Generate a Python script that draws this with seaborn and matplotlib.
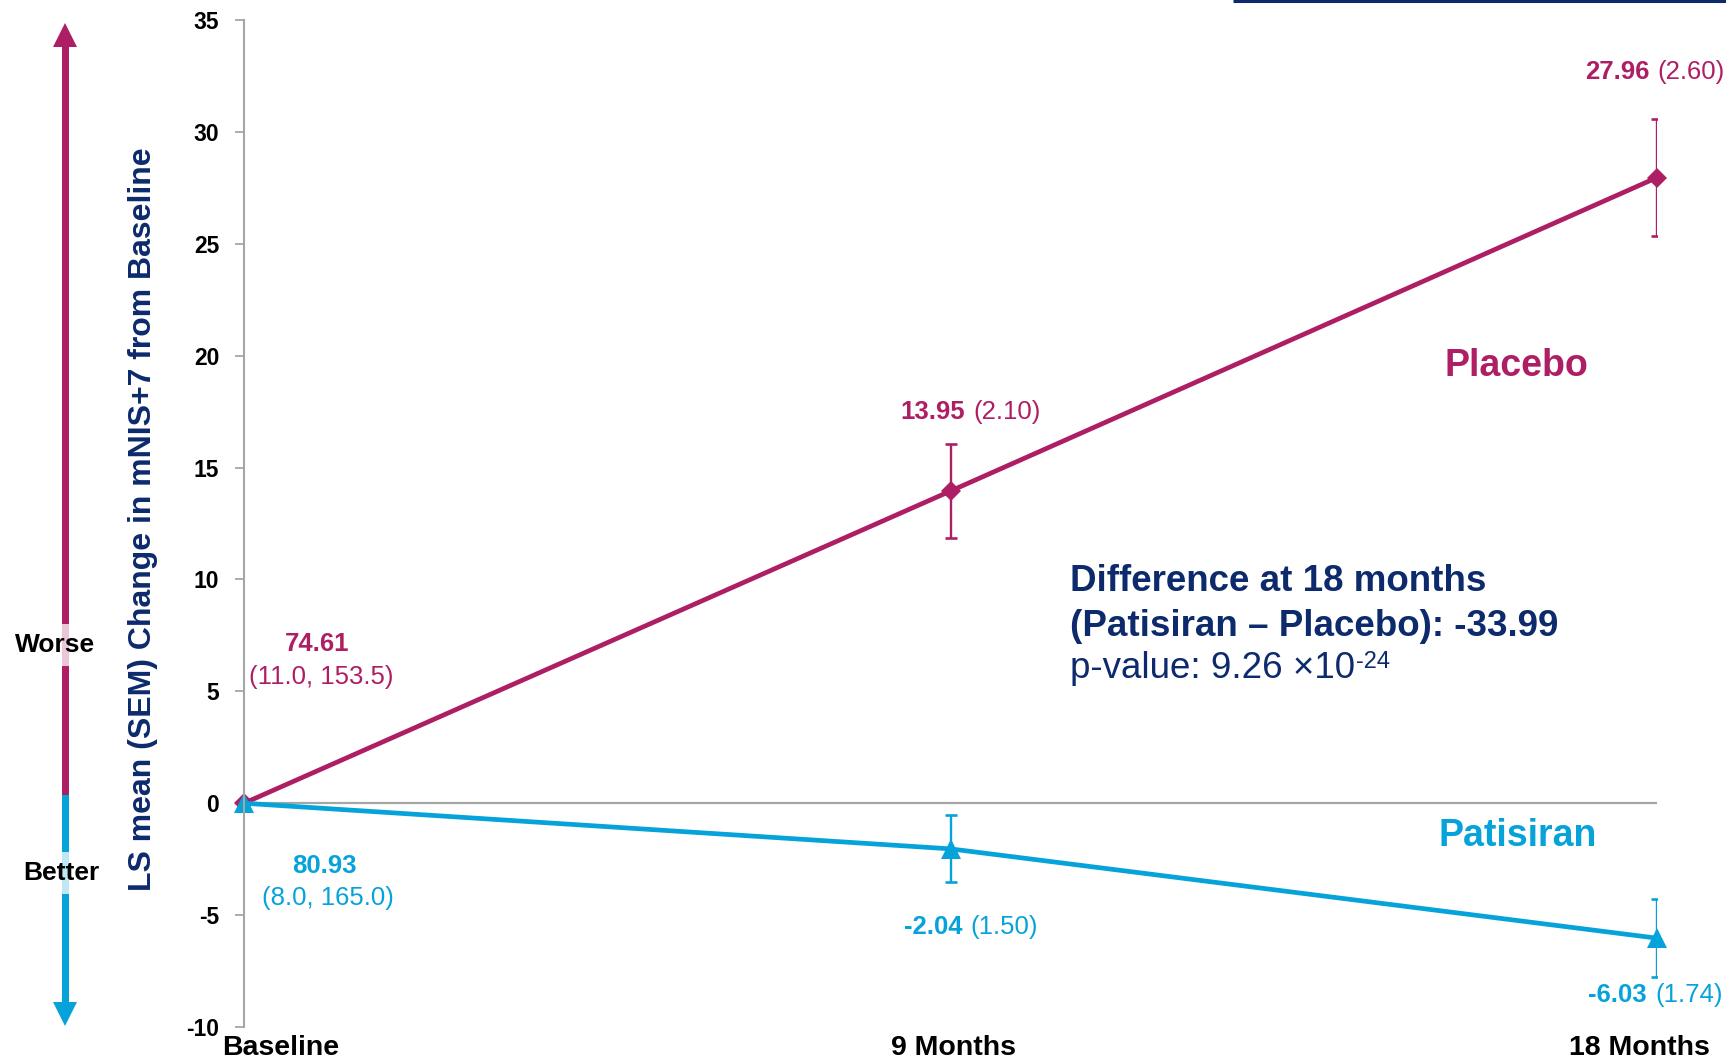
import matplotlib
matplotlib.use("Agg")
import matplotlib.pyplot as plt
from matplotlib.patches import Rectangle, Polygon
from matplotlib.transforms import ScaledTranslation
import numpy as np
import pandas as pd
import seaborn as sns

# ---- data -------------------------------------------------------------
timepoints = ["Baseline", "9 Months", "18 Months"]
arms = ["Placebo", "Patisiran"]

placebo_change = [0.0, 13.95, 27.96]
placebo_sem = [np.nan, 2.10, 2.60]
patisiran_change = [0.0, -2.04, -6.03]
patisiran_sem = [np.nan, 1.50, 1.74]

# baseline mNIS+7 mean and (min, max)
placebo_baseline = ["74.61", "(11.0, 153.5)"]
patisiran_baseline = ["80.93", "(8.0, 165.0)"]

y_ticks = [-10, -5, 0, 5, 10, 15, 20, 25, 30, 35]

difference_lines = ["Difference at 18 months",
                    "(Patisiran \u2013 Placebo): -33.99",
                    "p-value: 9.26 \u00d710"]
p_exponent = "-24"

# ---- style ------------------------------------------------------------
PLACEBO = "#AE1E64"
PATISIRAN = "#06A3DA"
NAVY = "#0C2A6C"
AXIS_GRAY = "#A6A6A6"

sns.set_theme(style="white")
plt.rcParams["font.family"] = ["Liberation Sans", "DejaVu Sans"]

W, H = 1726, 1061
fig = plt.figure(figsize=(W / 100, H / 100), dpi=100)
ax = fig.add_axes([244 / W, 34 / H, 1413 / W, 1007 / H])
ax.patch.set_visible(False)

# ---- lines ------------------------------------------------------------
positions = list(range(len(timepoints)))
df = pd.DataFrame({
    "pos": positions * 2,
    "change": placebo_change + patisiran_change,
    "arm": ["Placebo"] * 3 + ["Patisiran"] * 3,
})

ax.axhline(0, color=AXIS_GRAY, lw=1.6, zorder=1)

sns.lineplot(data=df, x="pos", y="change", hue="arm", style="arm",
             hue_order=arms, style_order=arms,
             palette={"Placebo": PLACEBO, "Patisiran": PATISIRAN},
             markers={"Placebo": "D", "Patisiran": "^"}, dashes=False,
             linewidth=3.4, markeredgewidth=0, legend=False,
             errorbar=None, ax=ax)

for line in ax.lines[1:]:
    line.set_clip_on(False)
    line.set_markersize(10 if line.get_marker() == "D" else 15)

for change, sem, color in [(placebo_change, placebo_sem, PLACEBO),
                           (patisiran_change, patisiran_sem, PATISIRAN)]:
    ax.errorbar(positions[1:], change[1:], yerr=sem[1:], fmt="none",
                ecolor=color, elinewidth=1.7, capsize=4.2, capthick=1.9,
                zorder=3)

# ---- axes -------------------------------------------------------------
ax.set_xlim(0, 2)
ax.set_ylim(-10, 35)
sns.despine(ax=ax, bottom=True)
ax.spines["left"].set_color(AXIS_GRAY)
ax.spines["left"].set_linewidth(1.5)

ax.set_yticks(y_ticks)
ax.set_yticklabels([str(v) for v in y_ticks], fontsize=16.5,
                   fontweight="bold", color="black")
ax.tick_params(axis="y", left=True, direction="out", length=6.5,
               width=1.3, color=AXIS_GRAY, pad=11.3)

ax.set_xticks(positions)
ax.set_xticklabels(timepoints, fontsize=20.5, fontweight="bold",
                   color="black")
ax.tick_params(axis="x", bottom=False, length=0, pad=6.0)
for lbl, dx in zip(ax.get_xticklabels(), [37, 3, -18]):
    lbl.set_transform(lbl.get_transform()
                      + ScaledTranslation(dx / 100, 0, fig.dpi_scale_trans))

ax.set_xlabel("")
ax.set_ylabel("LS mean (SEM) Change in mNIS+7 from Baseline", fontsize=23,
              fontweight="bold", color=NAVY)
ax.yaxis.set_label_coords(-0.0715, 0.5045)
ax.yaxis.label.set_va("center")


# ---- value labels -----------------------------------------------------
def value_label(x, y, bold, regular, color):
    ax.annotate(bold, xy=(x, y), xytext=(-3.0, 0), textcoords="offset points",
                ha="right", va="center", fontsize=18.5, fontweight="bold",
                color=color, annotation_clip=False)
    ax.annotate(regular, xy=(x, y), xytext=(3.0, 0),
                textcoords="offset points", ha="left", va="center",
                fontsize=18.5, color=color, annotation_clip=False)


value_label(1.027, 17.47, f"{placebo_change[1]:.2f}",
            f"({placebo_sem[1]:.2f})", PLACEBO)
value_label(1.995, 32.66, f"{placebo_change[2]:.2f}",
            f"({placebo_sem[2]:.2f})", PLACEBO)
value_label(1.0226, -5.54, f"{patisiran_change[1]:.2f}",
            f"({patisiran_sem[1]:.2f})", PATISIRAN)
value_label(1.9915, -8.58, f"{patisiran_change[2]:.2f}",
            f"({patisiran_sem[2]:.2f})", PATISIRAN)

ax.text(0.1033, 7.10, placebo_baseline[0], ha="center", va="center",
        fontsize=18.5, fontweight="bold", color=PLACEBO)
ax.text(0.109, 5.63, placebo_baseline[1], ha="center", va="center",
        fontsize=18.5, color=PLACEBO)
ax.text(0.1132, -2.815, patisiran_baseline[0], ha="center", va="center",
        fontsize=18.5, fontweight="bold", color=PATISIRAN)
ax.text(0.1189, -4.245, patisiran_baseline[1], ha="center", va="center",
        fontsize=18.5, color=PATISIRAN)

ax.text(1.8004, 19.55, "Placebo", ha="center", va="center", fontsize=27,
        fontweight="bold", color=PLACEBO)
ax.text(1.8033, -1.45, "Patisiran", ha="center", va="center", fontsize=27,
        fontweight="bold", color=PATISIRAN)

diff_texts = []
for text, y, weight in zip(difference_lines, [9.90, 7.90, 6.03],
                           ["bold", "bold", "normal"]):
    diff_texts.append(ax.text(1.1691, y, text, ha="left", va="center",
                              fontsize=26.5, fontweight=weight, color=NAVY))
# superscript exponent of the p-value
ax.annotate(p_exponent, xy=(1.0, 1.0), xycoords=diff_texts[-1],
            xytext=(0.5, 0), textcoords="offset points", ha="left", va="top",
            fontsize=17, color=NAVY)

# ---- worse / better arrow ---------------------------------------------
ov = fig.add_axes([0, 0, 1, 1], zorder=5)
ov.set_xlim(0, W)
ov.set_ylim(H, 0)
ov.axis("off")

ov.add_patch(Rectangle((61.5, 46), 7, 750, color=PLACEBO, lw=0))
ov.add_patch(Polygon([(53, 47), (77, 47), (65, 23)], closed=True,
                     color=PLACEBO, lw=0))
ov.add_patch(Rectangle((61.5, 795), 7, 208, color=PATISIRAN, lw=0))
ov.add_patch(Polygon([(53, 1002), (77, 1002), (65, 1026)], closed=True,
                     color=PATISIRAN, lw=0))

box = dict(boxstyle="square,pad=0.35", fc="white", ec="none", alpha=0.75)
ov.text(55, 645, "Worse", ha="center", va="center", fontsize=19,
        fontweight="bold", color="black", bbox=box)
ov.text(61, 873, "Better", ha="center", va="center", fontsize=19,
        fontweight="bold", color="black", bbox=box)

ov.plot([1233, W], [1.3, 1.3], color=NAVY, lw=2.2, solid_capstyle="butt")

fig.savefig("out.png", dpi=100)
